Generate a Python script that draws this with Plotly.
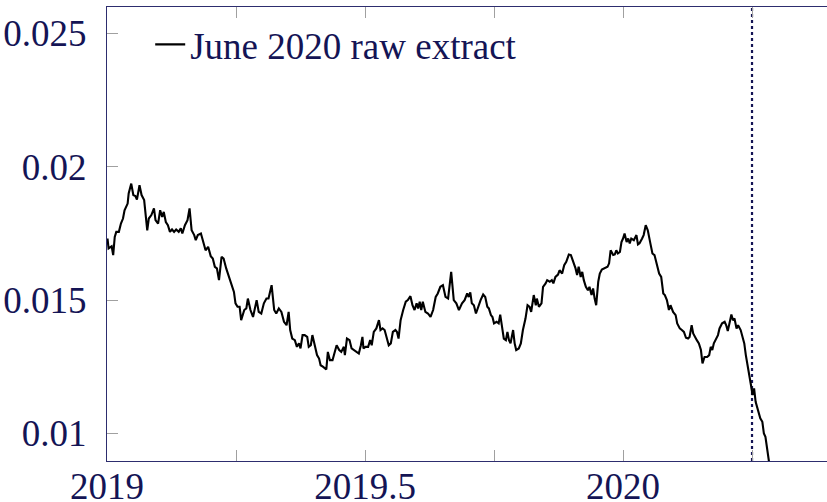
import plotly.graph_objects as go

# ---- data (decimal year, value) ----
dates = [
    2019.001, 2019.003, 2019.009, 2019.012, 2019.015, 2019.018, 2019.023, 2019.027, 2019.031, 2019.034,
    2019.040, 2019.042, 2019.047, 2019.051, 2019.055, 2019.058, 2019.063, 2019.067, 2019.072, 2019.074,
    2019.078, 2019.081, 2019.086, 2019.091, 2019.094, 2019.099, 2019.103, 2019.107, 2019.110, 2019.114,
    2019.118, 2019.122, 2019.126, 2019.130, 2019.134, 2019.139, 2019.143, 2019.146, 2019.151, 2019.156,
    2019.160, 2019.164, 2019.169, 2019.172, 2019.176, 2019.182, 2019.186, 2019.191, 2019.196, 2019.201,
    2019.205, 2019.209, 2019.213, 2019.217, 2019.222, 2019.226, 2019.231, 2019.236, 2019.241, 2019.246,
    2019.249, 2019.253, 2019.257, 2019.260, 2019.266, 2019.270, 2019.273, 2019.278, 2019.283, 2019.288,
    2019.290, 2019.294, 2019.299, 2019.304, 2019.309, 2019.313, 2019.319, 2019.324, 2019.328, 2019.333,
    2019.338, 2019.343, 2019.348, 2019.352, 2019.355, 2019.359, 2019.364, 2019.368, 2019.372, 2019.375,
    2019.379, 2019.383, 2019.388, 2019.391, 2019.395, 2019.398, 2019.403, 2019.407, 2019.411, 2019.414,
    2019.419, 2019.425, 2019.428, 2019.432, 2019.437, 2019.440, 2019.445, 2019.450, 2019.454, 2019.459,
    2019.461, 2019.465, 2019.470, 2019.474, 2019.478, 2019.483, 2019.488, 2019.492, 2019.495, 2019.497,
    2019.501, 2019.506, 2019.510, 2019.513, 2019.517, 2019.522, 2019.527, 2019.530, 2019.534, 2019.538,
    2019.541, 2019.546, 2019.550, 2019.554, 2019.559, 2019.562, 2019.565, 2019.569, 2019.574, 2019.579,
    2019.583, 2019.588, 2019.592, 2019.596, 2019.600, 2019.603, 2019.606, 2019.609, 2019.612, 2019.617,
    2019.622, 2019.627, 2019.632, 2019.637, 2019.641, 2019.646, 2019.651, 2019.656, 2019.661, 2019.667,
    2019.672, 2019.677, 2019.682, 2019.688, 2019.693, 2019.698, 2019.701, 2019.704, 2019.707, 2019.711,
    2019.715, 2019.719, 2019.724, 2019.729, 2019.733, 2019.737, 2019.740, 2019.744, 2019.747, 2019.750,
    2019.755, 2019.759, 2019.762, 2019.766, 2019.769, 2019.773, 2019.776, 2019.779, 2019.782, 2019.787,
    2019.790, 2019.793, 2019.798, 2019.802, 2019.806, 2019.811, 2019.815, 2019.819, 2019.822, 2019.827,
    2019.831, 2019.833, 2019.837, 2019.842, 2019.845, 2019.850, 2019.853, 2019.858, 2019.862, 2019.865,
    2019.869, 2019.874, 2019.877, 2019.882, 2019.886, 2019.890, 2019.895, 2019.899, 2019.903, 2019.908,
    2019.911, 2019.914, 2019.918, 2019.921, 2019.924, 2019.928, 2019.932, 2019.935, 2019.939, 2019.942,
    2019.945, 2019.948, 2019.952, 2019.955, 2019.959, 2019.965, 2019.970, 2019.973, 2019.976, 2019.981,
    2019.984, 2019.987, 2019.990, 2019.994, 2019.997, 2020.000, 2020.003, 2020.007, 2020.010, 2020.013,
    2020.016, 2020.021, 2020.026, 2020.029, 2020.032, 2020.037, 2020.040, 2020.044, 2020.048, 2020.053,
    2020.057, 2020.061, 2020.065, 2020.070, 2020.074, 2020.078, 2020.081, 2020.085, 2020.089, 2020.092,
    2020.097, 2020.102, 2020.105, 2020.110, 2020.114, 2020.118, 2020.122, 2020.126, 2020.129, 2020.133,
    2020.136, 2020.139, 2020.143, 2020.147, 2020.151, 2020.154, 2020.158, 2020.163, 2020.167, 2020.170,
    2020.173, 2020.176, 2020.181, 2020.184, 2020.187, 2020.192, 2020.197, 2020.200, 2020.203, 2020.207,
    2020.210, 2020.213, 2020.216, 2020.220, 2020.223, 2020.228, 2020.231, 2020.235, 2020.238, 2020.241,
    2020.244, 2020.248, 2020.251, 2020.254, 2020.257, 2020.262, 2020.266, 2020.270, 2020.273, 2020.276,
    2020.279, 2020.282, 2020.288, 2020.295,
]
values = [
    0.01731, 0.01694, 0.01702, 0.01669, 0.01737, 0.01756, 0.01756, 0.01787, 0.01806, 0.01837,
    0.01862, 0.01900, 0.01937, 0.01894, 0.01890, 0.01877, 0.01931, 0.01894, 0.01875, 0.01825,
    0.01762, 0.01806, 0.01819, 0.01844, 0.01800, 0.01787, 0.01837, 0.01812, 0.01831, 0.01793,
    0.01781, 0.01756, 0.01765, 0.01756, 0.01765, 0.01756, 0.01769, 0.01750, 0.01781, 0.01800,
    0.01844, 0.01762, 0.01744, 0.01725, 0.01744, 0.01750, 0.01718, 0.01687, 0.01700, 0.01665,
    0.01656, 0.01625, 0.01619, 0.01575, 0.01662, 0.01656, 0.01619, 0.01587, 0.01563, 0.01531,
    0.01488, 0.01475, 0.01475, 0.01425, 0.01463, 0.01469, 0.01506, 0.01463, 0.01437, 0.01475,
    0.01500, 0.01456, 0.01450, 0.01488, 0.01506, 0.01506, 0.01556, 0.01463, 0.01450, 0.01469,
    0.01456, 0.01419, 0.01406, 0.01456, 0.01388, 0.01356, 0.01350, 0.01325, 0.01338, 0.01319,
    0.01369, 0.01369, 0.01362, 0.01325, 0.01331, 0.01369, 0.01331, 0.01294, 0.01281, 0.01256,
    0.01250, 0.01240, 0.01306, 0.01275, 0.01275, 0.01300, 0.01331, 0.01313, 0.01306, 0.01325,
    0.01294, 0.01356, 0.01350, 0.01319, 0.01313, 0.01306, 0.01300, 0.01331, 0.01362, 0.01319,
    0.01325, 0.01325, 0.01350, 0.01331, 0.01381, 0.01394, 0.01425, 0.01388, 0.01394, 0.01388,
    0.01369, 0.01331, 0.01338, 0.01381, 0.01388, 0.01381, 0.01356, 0.01425, 0.01463, 0.01494,
    0.01500, 0.01515, 0.01481, 0.01463, 0.01488, 0.01469, 0.01494, 0.01463, 0.01494, 0.01456,
    0.01450, 0.01437, 0.01463, 0.01512, 0.01525, 0.01550, 0.01556, 0.01512, 0.01506, 0.01606,
    0.01500, 0.01488, 0.01463, 0.01488, 0.01500, 0.01525, 0.01512, 0.01529, 0.01488, 0.01481,
    0.01450, 0.01475, 0.01500, 0.01521, 0.01512, 0.01475, 0.01469, 0.01444, 0.01437, 0.01413,
    0.01419, 0.01413, 0.01446, 0.01394, 0.01356, 0.01350, 0.01381, 0.01350, 0.01338, 0.01388,
    0.01338, 0.01313, 0.01319, 0.01338, 0.01388, 0.01431, 0.01481, 0.01475, 0.01456, 0.01519,
    0.01481, 0.01506, 0.01475, 0.01488, 0.01550, 0.01563, 0.01575, 0.01569, 0.01575, 0.01563,
    0.01587, 0.01596, 0.01612, 0.01600, 0.01631, 0.01644, 0.01671, 0.01669, 0.01650, 0.01619,
    0.01594, 0.01625, 0.01587, 0.01606, 0.01575, 0.01550, 0.01537, 0.01550, 0.01519, 0.01544,
    0.01506, 0.01481, 0.01569, 0.01600, 0.01615, 0.01619, 0.01625, 0.01638, 0.01687, 0.01669,
    0.01671, 0.01687, 0.01675, 0.01681, 0.01718, 0.01731, 0.01750, 0.01718, 0.01731, 0.01713,
    0.01731, 0.01725, 0.01744, 0.01709, 0.01713, 0.01731, 0.01744, 0.01781, 0.01762, 0.01713,
    0.01675, 0.01669, 0.01638, 0.01600, 0.01587, 0.01525, 0.01519, 0.01500, 0.01463, 0.01481,
    0.01456, 0.01444, 0.01413, 0.01394, 0.01388, 0.01381, 0.01359, 0.01356, 0.01362, 0.01406,
    0.01375, 0.01362, 0.01350, 0.01338, 0.01313, 0.01263, 0.01287, 0.01287, 0.01294, 0.01325,
    0.01313, 0.01338, 0.01356, 0.01369, 0.01394, 0.01413, 0.01419, 0.01406, 0.01384, 0.01419,
    0.01446, 0.01425, 0.01431, 0.01394, 0.01406, 0.01388, 0.01369, 0.01338, 0.01294, 0.01263,
    0.01219, 0.01181, 0.01144, 0.01169, 0.01119, 0.01088, 0.01057, 0.01044, 0.01000, 0.00988,
    0.00944, 0.00894, 0.00825, 0.00780,
]
series_name = "June 2020 raw extract"
event_date = 2020.25

x_tickvals = [2019.0, 2019.25, 2019.5, 2019.75, 2020.0, 2020.25]
x_ticktext = ["2019", "", "2019.5", "", "2020", ""]
y_tickvals = [0.01, 0.015, 0.02, 0.025]
y_ticktext = ["0.01", "0.015", "0.02", "0.025"]

x_range = [2019.0, 2020.3953]
y_range = [0.00897, 0.02599]

NAVY = "rgb(20,20,85)"
AXIS = "rgb(45,45,110)"
TICK = "rgb(160,160,160)"
FONT = "Liberation Serif"

fig = go.Figure()
fig.add_trace(go.Scatter(
    x=dates, y=values, mode="lines", name=series_name,
    line=dict(color="black", width=2.1),
))

fig.add_shape(
    type="line", xref="x", yref="paper", x0=event_date, x1=event_date, y0=0, y1=1,
    line=dict(color=NAVY, width=2.2, dash="dot"), layer="below",
)

fig.update_layout(
    width=827, height=502,
    margin=dict(l=107, r=0, t=7, b=41, autoexpand=False),
    plot_bgcolor="white", paper_bgcolor="white",
    font=dict(family=FONT, size=37, color=NAVY),
    showlegend=True,
    legend=dict(
        x=0.06, y=0.985, xanchor="left", yanchor="top",
        bgcolor="rgba(0,0,0,0)", borderwidth=0,
        font=dict(family=FONT, size=37, color=NAVY),
    ),
    xaxis=dict(
        range=x_range, tickvals=x_tickvals, ticktext=x_ticktext,
        ticks="inside", ticklen=11, tickwidth=1, tickcolor=TICK,
        showline=True, linecolor=AXIS, linewidth=1.3, mirror="ticks",
        showgrid=False, zeroline=False, automargin=False, ticklabelstandoff=-8,
    ),
    yaxis=dict(
        range=y_range, tickvals=y_tickvals, ticktext=y_ticktext,
        ticks="inside", ticklen=11, tickwidth=1, tickcolor=TICK,
        showline=True, linecolor=AXIS, linewidth=1.3, mirror=False,
        showgrid=False, zeroline=False, automargin=False, ticklabelstandoff=12,
    ),
    yaxis2=dict(
        range=y_range, tickvals=y_tickvals, overlaying="y", side="right",
        ticks="inside", ticklen=8, tickwidth=1, tickcolor=TICK,
        showticklabels=False, showline=False, showgrid=False, zeroline=False,
        automargin=False,
    ),
)

fig.write_html("out.html")
